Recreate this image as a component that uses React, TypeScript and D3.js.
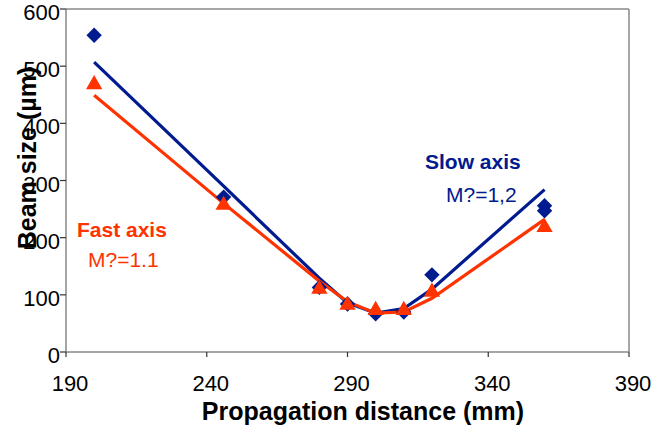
import * as d3 from 'd3';

// measured points
const distances = [200, 246, 280, 290, 300, 310, 320, 360];
const slowMeasured = [554, 271, 113, 84, 67, 70, 135, 256];
const slowExtraDistance = [360];
const slowExtra = [247];
const fastMeasured = [468, 257, 110, 82, 73, 73, 105, 218];

// fitted curves (M² fit), read at the same distances
const slowFit = [507, 290, 129, 86, 68, 76, 110, 284];
const fastFit = [449, 260, 124, 88, 68, 70, 94, 232];

const xTicks = [190, 240, 290, 340, 390];
const yTicks = [0, 100, 200, 300, 400, 500, 600];

const W = 652;
const H = 432;
const SLOW = '#001a8f';
const FAST = '#ff3300';
const AXIS = '#888888';
const FONT = 'Arial, "Liberation Sans", Helvetica, sans-serif';

export default function App() {
  const x = d3.scaleLinear().domain([190, 390]).range([66, 629]);
  const y = d3.scaleLinear().domain([0, 600]).range([352, 9]);

  const line = d3.line<number>()
    .x((_, i) => x(distances[i]))
    .y(d => y(d));

  const diamond = d3.symbol(d3.symbolSquare, 118)();
  const triangle = d3.symbol(d3.symbolTriangle, 115)();

  const slowPts = [
    ...distances.map((d, i) => [d, slowMeasured[i]]),
    ...slowExtraDistance.map((d, i) => [d, slowExtra[i]]),
  ];

  return (
    <svg width={W} height={H} style={{ position: 'absolute', left: 0, top: 0 }} fontFamily={FONT}>
      <rect width={W} height={H} fill="#fff" />

      {/* plot frame */}
      <line x1={x(190)} x2={x(390)} y1={y(600)} y2={y(600)} stroke={AXIS} strokeWidth={1.5} />
      <line x1={x(390)} x2={x(390)} y1={y(600)} y2={y(0)} stroke={AXIS} strokeWidth={1.5} />
      <line x1={x(190)} x2={x(190)} y1={y(600)} y2={y(0)} stroke={AXIS} strokeWidth={1.5} />
      <line x1={x(190)} x2={x(390)} y1={y(0)} y2={y(0)} stroke={AXIS} strokeWidth={1.5} />

      {/* y axis */}
      {yTicks.map(t => (
        <g key={'y' + t}>
          <line x1={x(190) - 6} x2={x(190)} y1={y(t)} y2={y(t)} stroke="#333" strokeWidth={1.2} />
          <text x={x(190) - 6} y={y(t) + 11} textAnchor="end" fontSize={22} fill="#000">{t}</text>
        </g>
      ))}

      {/* x axis */}
      {xTicks.map(t => (
        <g key={'x' + t}>
          <line x1={x(t)} x2={x(t)} y1={y(0)} y2={y(0) + 5} stroke="#333" strokeWidth={1.2} />
          <text x={x(t) + 4} y={391} textAnchor="middle" fontSize={22} fill="#000">{t}</text>
        </g>
      ))}

      {/* fit lines */}
      <path d={line(slowFit) ?? ''} fill="none" stroke={SLOW} strokeWidth={3.2} />
      <path d={line(fastFit) ?? ''} fill="none" stroke={FAST} strokeWidth={3.2} />

      {/* markers */}
      {slowPts.map(([d, v], i) => (
        <path key={'s' + i} d={diamond ?? ''} fill={SLOW}
          transform={`translate(${x(d)},${y(v)}) rotate(45)`} />
      ))}
      {distances.map((d, i) => (
        <path key={'f' + i} d={triangle ?? ''} fill={FAST}
          transform={`translate(${x(d)},${y(fastMeasured[i])})`} />
      ))}

      {/* annotations */}
      <text x={425} y={169} fontSize={21} fontWeight="bold" fill={SLOW}>Slow axis</text>
      <text x={446} y={202} fontSize={21} fill={SLOW}>M?=1,2</text>
      <text x={77} y={237} fontSize={21} fontWeight="bold" fill={FAST}>Fast axis</text>
      <text x={88} y={267} fontSize={21} fill={FAST}>M?=1.1</text>

      {/* axis titles */}
      <text x={363} y={420} textAnchor="middle" fontSize={25} fontWeight="bold" fill="#000">
        Propagation distance (mm)
      </text>
      <text transform="translate(36,158) rotate(-90)" textAnchor="middle" fontSize={25} fontWeight="bold" fill="#000">
        Beam size (µm)
      </text>
    </svg>
  );
}
